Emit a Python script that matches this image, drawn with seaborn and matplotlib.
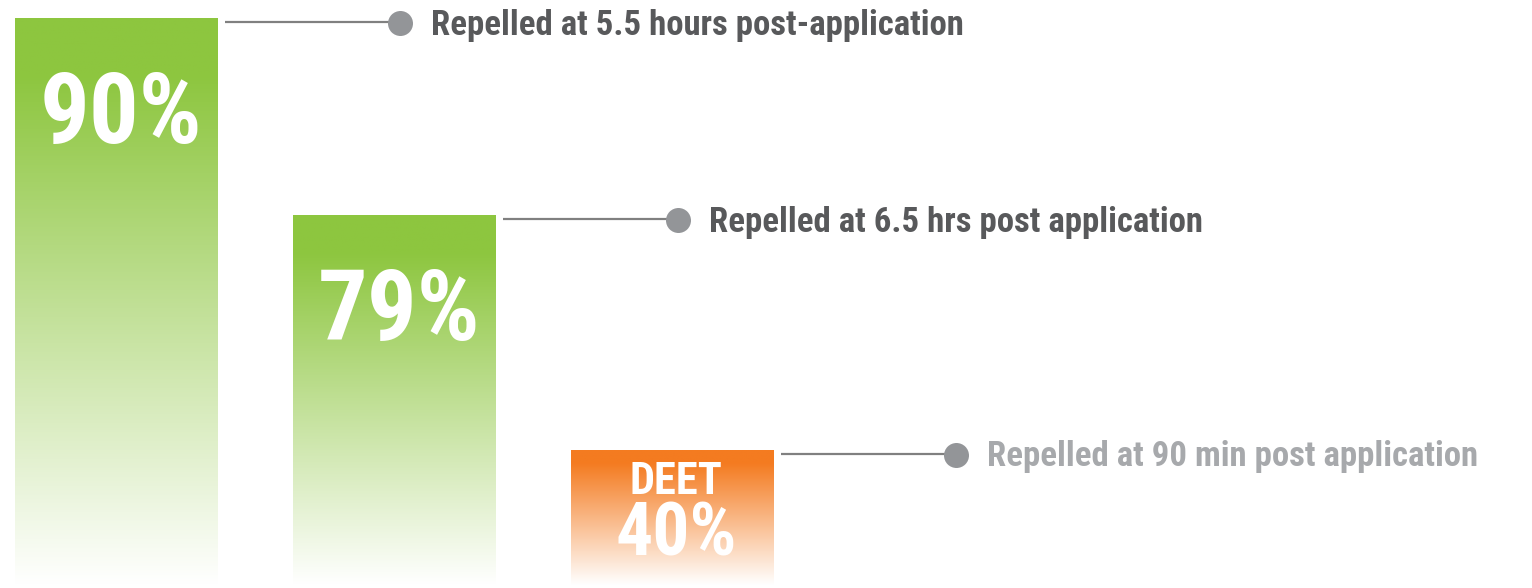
import numpy as np
import matplotlib
matplotlib.use("Agg")
import matplotlib.pyplot as plt
import matplotlib.colors as mcolors
import seaborn as sns

sns.set_style("white")
plt.rcParams['font.family'] = ['Roboto Condensed', 'DejaVu Sans']

# data
products = ['Product A', 'Product B', 'DEET']
repelled_pct = [90, 79, 40]
bar_heights = [96.9, 63.4, 23.5]   # drawn height on a 0-100 canvas scale
bar_colors = ['#8DC63F', '#8DC63F', '#F47B20']
bar_tags = ['', '', 'DEET']
notes = ['Repelled at 5.5 hours post-application',
         'Repelled at 6.5 hrs post application',
         'Repelled at 90 min post application']
note_colors = ['#58595B', '#58595B', '#A7A9AC']

fig = plt.figure(figsize=(15.32, 5.88), dpi=100)
ax = fig.add_axes([0, 0, 1, 1])
sns.barplot(x=products, y=bar_heights, width=0.727, color='white', ax=ax)
ax.set_xlim(-0.417, 5.094)
ax.set_ylim(0, 100)
ax.axis('off')

px = 1 / 278.0        # one pixel in x units
py = 100 / 588.0      # one pixel in y units

t = np.linspace(0, 1, 256).reshape(-1, 1)
fade = np.clip((t - 0.1) / 0.9, 0, 1)

for i, patch in enumerate(ax.patches):
    x0 = patch.get_x()
    w = patch.get_width()
    h = patch.get_height()
    base = np.array(mcolors.to_rgb(bar_colors[i]))
    rgb = base[None, None, :] * (1 - fade[:, :, None]) + fade[:, :, None]
    im = ax.imshow(rgb, extent=[x0, x0 + w, 0.5, h], aspect='auto',
                   origin='upper', zorder=2)
    im.set_clip_path(patch)
    patch.set_facecolor('none')
    patch.set_edgecolor('none')

    xc = x0 + w / 2
    right = x0 + w
    ly = h - 4 * py
    # connector line, dot and note
    ax.plot([right + 8 * px, right + 172 * px], [ly, ly], color='#808080',
            lw=1.6, zorder=3, solid_capstyle='butt')
    ax.plot(right + 183 * px, ly - 1 * py, 'o', ms=18, color='#939598',
            mec='none', zorder=4)
    ax.text(right + 214 * px, ly - 3 * py, notes[i], color=note_colors[i],
            fontsize=25, fontweight='bold', ha='left', va='center', zorder=4)

    label = f"{repelled_pct[i]}%"
    if bar_tags[i]:
        ax.text(xc + 4 * px, h - 32 * py, bar_tags[i], color='white', fontsize=32,
                fontweight='bold', ha='center', va='center', zorder=5)
        ax.text(xc + 4 * px, h - 86 * py, label, color='white', fontsize=53,
                fontweight='bold', ha='center', va='center', zorder=5)
    else:
        ax.text(xc + 5 * px, h - 98 * py, label, color='white', fontsize=71,
                fontweight='bold', ha='center', va='center', zorder=5)

plt.savefig('out.png', dpi=100)
